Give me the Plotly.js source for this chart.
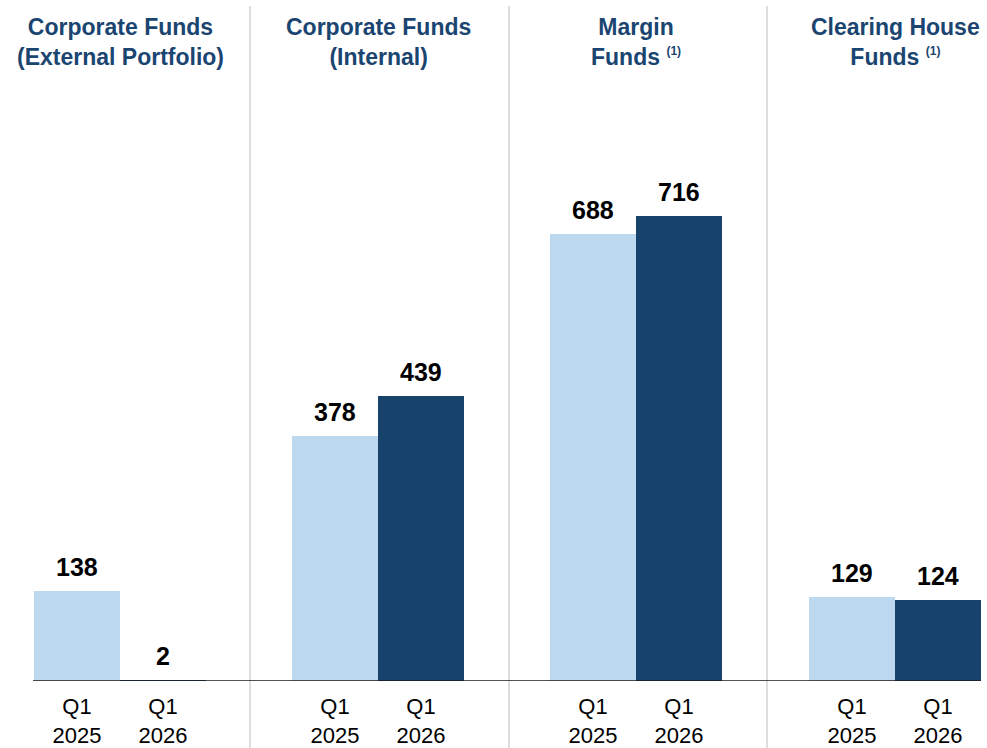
<!DOCTYPE html>
<html>
<head>
<meta charset="utf-8">
<script src="https://cdn.plot.ly/plotly-3.0.1.min.js"></script>
<style>html,body{margin:0;padding:0;background:#fff;}#chart{width:987px;height:748px;}</style>
</head>
<body>
<div id="chart"></div>
<script>
// ---- data ----
const panelTitles = [
  "Corporate Funds<br>(External Portfolio)",
  "Corporate Funds<br>(Internal)",
  "Margin<br>Funds <sup><span style=\"font-size:12px\">(1)</span></sup>",
  "Clearing House<br>Funds <sup><span style=\"font-size:12px\">(1)</span></sup>"
];
const periods = ["Q1<br>2025", "Q1<br>2026"];
const q1_2025 = [138, 378, 688, 129];
const q1_2026 = [2, 439, 716, 124];

// ---- styles / layout ----
const W = 987, H = 748;
const barColors = ["#bdd9f0", "#16426b"];
const titleColor = "#1b4571";
const panelPx = [[0, 250], [250, 509], [509, 767], [767, 987]];
const barStartPx = [34, 292, 550, 809];
const unitPx = 86;
const fontFam = "Liberation Sans, Arial, sans-serif";

const traces = [];
const annotations = [];
const layout = {
  width: W, height: H,
  margin: {l: 0, r: 0, t: 0, b: 67},
  paper_bgcolor: "#fff", plot_bgcolor: "rgba(0,0,0,0)",
  showlegend: false,
  bargap: 0,
  yaxis: {range: [0, 1048.6], visible: false, fixedrange: true},
  annotations: annotations,
  shapes: []
};

for (let i = 0; i < 4; i++) {
  const ax = i === 0 ? "x" : "x" + (i + 1);
  const axKey = i === 0 ? "xaxis" : "xaxis" + (i + 1);
  const vals = [q1_2025[i], q1_2026[i]];
  traces.push({
    type: "bar", x: periods, y: vals, xaxis: ax, yaxis: "y",
    width: 1, marker: {color: barColors, line: {width: 0}},
    hoverinfo: "skip"
  });
  const [p0, p1] = panelPx[i];
  const left = -0.5 - (barStartPx[i] - p0) / unitPx;
  const right = -0.5 + (p1 - barStartPx[i]) / unitPx;
  layout[axKey] = {
    domain: [p0 / W, p1 / W], range: [left, right], type: "category",
    showgrid: false, zeroline: false, showline: false, ticks: "",
    ticklabelstandoff: 10,
    tickfont: {family: fontFam, size: 22, color: "#000"},
    anchor: "y", fixedrange: true
  };
  // value labels
  periods.forEach((p, j) => {
    annotations.push({
      xref: ax, yref: "y", x: p, y: vals[j], yanchor: "bottom", yshift: 8,
      text: "<b>" + vals[j] + "</b>", showarrow: false,
      font: {family: fontFam, size: 25, color: "#000"}
    });
  });
  // panel title
  annotations.push({
    xref: ax, yref: "paper", x: 0.5, y: 1 - 12 / 681, yanchor: "top",
    text: "<b>" + panelTitles[i] + "</b>", showarrow: false,
    font: {family: fontFam, size: 23, color: titleColor}
  });
  // divider
  if (i > 0) {
    layout.shapes.push({
      type: "line", xref: "paper", yref: "paper",
      x0: p0 / W, x1: p0 / W, y0: 1 - 6 / 681, y1: -67 / 681,
      line: {color: "#c8c8c8", width: 1.2}
    });
  }
}
// baseline
layout.shapes.push({
  type: "line", xref: "paper", yref: "y",
  x0: 33 / W, x1: 981 / W, y0: 0, y1: 0,
  line: {color: "#1a1a1a", width: 1.6}
});

Plotly.newPlot("chart", traces, layout, {staticPlot: true, displayModeBar: false});
</script>
</body>
</html>
